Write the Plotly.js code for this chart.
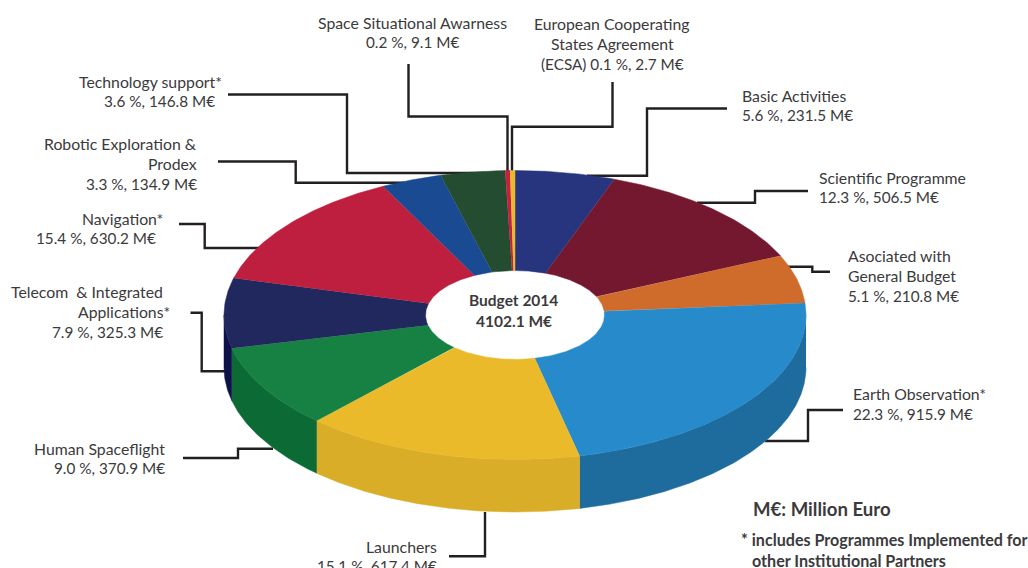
<!DOCTYPE html>
<html>
<head>
<meta charset="utf-8">
<script src="https://cdn.plot.ly/plotly-3.0.1.min.js"></script>
<style>html,body{margin:0;padding:0;background:#fff;overflow:hidden}#chart{width:1028px;height:568px}</style>
</head>
<body>
<div id="chart"></div>
<script>
// ESA budget 2014, clockwise from twelve o'clock
const programmes = ["Basic Activities", "Scientific Programme", "Asociated with General Budget",
  "Earth Observation*", "Launchers", "Human Spaceflight", "Telecom & Integrated Applications*",
  "Navigation*", "Robotic Exploration & Prodex", "Technology support*",
  "Space Situational Awarness", "European Cooperating States Agreement (ECSA)"];
const millionEuro = [231.5, 506.5, 210.8, 915.9, 617.4, 370.9, 325.3, 630.2, 134.9, 146.8, 9.1, 2.7];
const percent = [5.6, 12.3, 5.1, 22.3, 15.1, 9.0, 7.9, 15.4, 3.3, 3.6, 0.2, 0.1];
const totalBudget = 4102.1;

const topColors = ["#27347e", "#741830", "#cf6b2b", "#268acb", "#eaba2a", "#178143",
  "#20285e", "#bf1f3e", "#1a4a91", "#244c30", "#c4203f", "#ebb92a"];
const wallColors = ["#1b2559", "#551022", "#a9551f", "#1e6b9e", "#d9ad27", "#0c6b34",
  "#0d1148", "#8f162e", "#12346a", "#17321f", "#8f162e", "#b88f1f"];

// Label lines per programme; the value line is appended from the arrays above
const nameLines = [["Basic Activities"], ["Scientific Programme"], ["Asociated with", "General Budget"],
  ["Earth Observation*"], ["Launchers"], ["Human Spaceflight"], ["Telecom  & Integrated", "Applications*"],
  ["Navigation*"], ["Robotic Exploration &", "Prodex"], ["Technology support*"],
  ["Space Situational Awarness"], ["European Cooperating", "States Agreement"]];
const valuePrefix = ["", "", "", "", "", "", "", "", "", "", "", "(ECSA) "];

// Label placement: [x, anchor, first line y, per-line x offsets]
const labelPlace = [
  [741, "left", 95], [817.5, "left", 177], [847, "left", 255], [851.5, "left", 393.5],
  [438, "right", 546], [165.5, "right", 448], [163.5, "right", 291, [0, 7, 0]],
  [164, "right", 218, [0, -7]], [197.5, "right", 143], [223, "right", 81, [0, -7]],
  [412, "center", 22], [612, "center", 23]
];
const lineStep = 20.4;
const nameSize = 15.8, valueSize = 15.3;

// Leader lines from each label to its slice
const leaders = [
  [[727,108.5],[647,108.5],[647,175.7],[587,175.7]],
  [[808,191],[755,191],[755,202.7],[697,202.7]],
  [[830,271.7],[812.3,271.7],[812.3,266.7],[787,266.7]],
  [[843,410],[808,410],[808,441],[765,441]],
  [[449,556.3],[485,556.3],[485,512]],
  [[183,458],[238,458],[238,448.7],[273,448.7]],
  [[190.5,312.7],[201.7,312.7],[201.7,371.3],[225,371.3]],
  [[179,224],[204.7,224],[204.7,248],[260,248]],
  [[218,161.5],[295.7,161.5],[295.7,182.7],[405,182.7]],
  [[228,94.5],[347,94.5],[347,173],[485,173]],
  [[408.5,64],[408.5,116.5],[507.5,116.5],[507.5,172]],
  [[612.5,82],[612.5,126.7],[512,126.7],[512,172]]
];

// Pie geometry in page units
const cx = 515, cy = 315, rx = 291, ry = 144.5, depth = 52.5;
const holeShare = 0.3075;
const textColor = "#3b3a3c", lineColor = "#231f20";
const bodyFont = "Lato, 'Open Sans', sans-serif";

// Angular skew of the tilted drawing: [true angle, offset in degrees]
const skewKnots = [[0,0],[20,-0.4],[65,1],[83,2],[164,3.5],[218,5.1],[250,6.3],[279,5.9],
  [334,-1.2],[346,-0.9],[359,-0.9],[359.76,-0.76],[360,0]];

const rad = d => d * Math.PI / 180;
function view(d) {
  for (let i = 1; i < skewKnots.length; i++) {
    const [a0, s0] = skewKnots[i - 1], [a1, s1] = skewKnots[i];
    if (d <= a1) return d + s0 + (s1 - s0) * (d - a0) / (a1 - a0);
  }
  return d;
}
const px = (d, s) => cx + rx * s * Math.sin(rad(d));
const py = (d, s, drop) => cy + drop - ry * s * Math.cos(rad(d));

function arc(from, to, s, drop) {
  const n = Math.max(2, Math.ceil(Math.abs(to - from) / 0.5));
  const xs = [], ys = [];
  for (let i = 0; i <= n; i++) {
    const d = from + (to - from) * i / n;
    xs.push(px(d, s));
    ys.push(py(d, s, drop));
  }
  return [xs, ys];
}

const budgetSum = millionEuro.reduce((a, b) => a + b, 0);
let running = 0;
const sweeps = millionEuro.map(v => {
  const a = view(running / budgetSum * 360);
  running += v;
  return [a, view(running / budgetSum * 360)];
});

const walls = [], faces = [];
sweeps.forEach(([a, b], i) => {
  const from = Math.max(a, 90), to = Math.min(b, 270);
  if (to > from) {
    const [x1, y1] = arc(from, to, 1, 0);
    const [x2, y2] = arc(to, from, 1, depth);
    walls.push({
      type: "scatter", mode: "lines", x: x1.concat(x2), y: y1.concat(y2), fill: "toself",
      fillcolor: wallColors[i], line: {color: wallColors[i], width: 0.5},
      name: programmes[i], hoverinfo: "name"
    });
  }
  const [x1, y1] = arc(a, b, 1, 0);
  const [x2, y2] = arc(b, a, holeShare, 0);
  faces.push({
    type: "scatter", mode: "lines", x: x1.concat(x2), y: y1.concat(y2), fill: "toself",
    fillcolor: topColors[i], line: {color: topColors[i], width: 0.5},
    name: programmes[i], text: percent[i] + " %, " + millionEuro[i] + " M€", hoverinfo: "name+text"
  });
});

function note(text, x, y, anchor, size, bold) {
  return {
    text: bold ? "<b>" + text + "</b>" : text, x, y, xref: "x", yref: "y", xanchor: anchor, yanchor: "middle",
    showarrow: false, borderpad: 0, font: {family: bodyFont, size, color: textColor}
  };
}

const annotations = [];
programmes.forEach((_, i) => {
  const [x, anchor, y0, shifts] = labelPlace[i];
  const names = nameLines[i];
  const lines = names.concat(valuePrefix[i] + percent[i].toFixed(1) + " %, " + millionEuro[i].toFixed(1) + " M€");
  lines.forEach((t, k) => annotations.push(
    note(t, x + (shifts ? shifts[k] : 0), y0 + k * lineStep, anchor, k < names.length ? nameSize : valueSize)));
});
annotations.push(note("Budget 2014", 513.5, 300, "center", 15.5, true));
annotations.push(note(totalBudget.toFixed(1) + " M€", 513.5, 321, "center", 15.5, true));
annotations.push(note("M€: Million Euro", 752, 509, "left", 18.6, true));
annotations.push(note("* includes Programmes Implemented for", 739.5, 539.5, "left", 16.1, true));
annotations.push(note("other Institutional Partners", 750.5, 560, "left", 16.1, true));

const shapes = leaders.map(pts => ({
  type: "path", xref: "x", yref: "y", layer: "below",
  path: pts.map((p, i) => (i ? "L" : "M") + p[0] + "," + p[1]).join(" "),
  line: {color: lineColor, width: 2.4}
}));

Plotly.newPlot("chart", walls.concat(faces), {
  width: 1028, height: 568,
  margin: {l: 0, r: 0, t: 0, b: 0},
  paper_bgcolor: "#fff", plot_bgcolor: "#fff",
  showlegend: false,
  xaxis: {range: [0, 1028], visible: false, fixedrange: true},
  yaxis: {range: [568, 0], visible: false, fixedrange: true},
  annotations, shapes
}, {displayModeBar: false});
</script>
</body>
</html>
